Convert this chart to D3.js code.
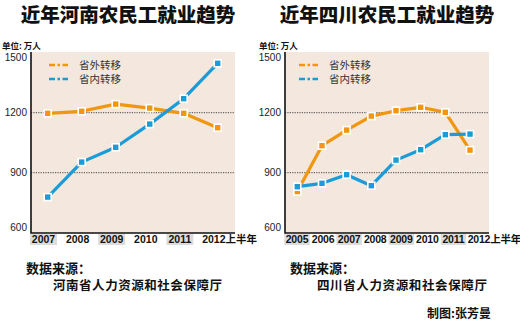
<!DOCTYPE html>
<html>
<head>
<meta charset="utf-8">
<script src="https://cdn.jsdelivr.net/npm/d3@7"></script>
<style>
  body { margin: 0; background: #fff; }
  text { font-family: "Liberation Sans", Arial, "Noto Sans CJK SC", sans-serif; }
  .cjk { font-family: "Noto Sans CJK SC", sans-serif; }
</style>
</head>
<body>
<script>
  // data (unit: 10k people)
  var henanYears = ["2007", "2008", "2009", "2010", "2011", "2012上半年"];
  var henanOut = [1197, 1207, 1243, 1223, 1197, 1125];
  var henanIn = [778, 953, 1027, 1143, 1270, 1447];

  var sichuanYears = ["2005", "2006", "2007", "2008", "2009", "2010", "2011", "2012上半年"];
  var sichuanOut = [806, 1035, 1113, 1183, 1210, 1227, 1202, 1013];
  var sichuanIn = [830, 847, 890, 835, 963, 1015, 1090, 1093];

  var yTicks = [600, 900, 1200, 1500];
  var seriesNames = ["省外转移", "省内转移"];

  var orange = "#f1960f";
  var blue = "#1b9bd7";

  var svg = d3.select("body").append("svg")
    .attr("width", 520)
    .attr("height", 324);

  // one panel = title, plot, legend, source note
  var drawPanel = function (o) {
    var g = svg.append("g");

    g.append("text")
      .attr("class", "cjk")
      .attr("x", o.titleX).attr("y", 22)
      .attr("text-anchor", "middle")
      .attr("font-size", 19.5).attr("font-weight", 900)
      .attr("fill", "#111")
      .text(o.title);

    g.append("text")
      .attr("class", "cjk")
      .attr("x", o.unitX).attr("y", 48.5)
      .attr("font-size", 8.5).attr("font-weight", 700)
      .attr("fill", "#111")
      .text("单位: 万人");

    var y = d3.scaleLinear().domain([600, 1500]).range([232.7, 52.7]);
    var x = d3.scalePoint().domain(o.years).range([o.x0, o.x1]);
    // tick labels sit on their own spacing, a bit off the points
    var xl = d3.scalePoint().domain(o.years).range([o.l0, o.l1]);

    g.append("rect")
      .attr("x", o.left).attr("y", 52)
      .attr("width", o.right - o.left).attr("height", 181)
      .attr("fill", "#f3e7de");

    // dotted grid
    g.selectAll("line.grid").data([900, 1200]).enter()
      .append("line")
      .attr("x1", o.left).attr("x2", o.right)
      .attr("y1", function(d){ return y(d); })
      .attr("y2", function(d){ return y(d); })
      .attr("stroke", "#333").attr("stroke-width", 0.9)
      .attr("stroke-dasharray", "1.2,1.2");

    // y axis labels (ends pulled inward like the print)
    var yOff = {600: -1.5, 900: 3.5, 1200: 3.5, 1500: 8};
    g.selectAll("text.yt").data(yTicks).enter()
      .append("text")
      .attr("x", o.left - 4)
      .attr("y", function(d){ return y(d) + yOff[d]; })
      .attr("text-anchor", "end")
      .attr("font-size", 10).attr("fill", "#222")
      .text(function(d){ return d; });

    // axes
    g.append("path")
      .attr("d", "M" + o.left + ",52V" + 233 + "H" + o.right)
      .attr("fill", "none").attr("stroke", "#111").attr("stroke-width", 1.6);

    // x labels, every other one shaded
    var last = o.years[o.years.length - 1];
    var lab = g.selectAll("g.xl").data(o.years).enter().append("g");
    lab.filter(function(d, i){ return i % 2 === 0 && d !== last; })
      .append("rect")
      .attr("x", function(d){ return xl(d) - o.boxW / 2; })
      .attr("y", 234).attr("width", o.boxW).attr("height", 11)
      .attr("fill", "#dcdcdc");
    lab.append("text")
      .attr("x", function(d){ return d === last ? xl(d) - 11.8 : xl(d); })
      .attr("y", 243)
      .attr("text-anchor", function(d){ return d === last ? "start" : "middle"; })
      .attr("font-size", 10.5).attr("font-weight", 700)
      .attr("fill", "#111")
      .attr("letter-spacing", o.labSpacing)
      .text(function(d){ return d; });

    var line = d3.line()
      .x(function(d, i){ return x(o.years[i]); })
      .y(function(d){ return y(d); });

    [[o.out, orange], [o.inn, blue]].forEach(function (s) {
      g.append("path")
        .datum(s[0])
        .attr("d", line)
        .attr("fill", "none").attr("stroke", s[1]).attr("stroke-width", 3.2)
        .attr("stroke-linejoin", "round");
      g.selectAll(null).data(s[0]).enter()
        .append("rect")
        .attr("x", function(d, i){ return x(o.years[i]) - 3.5; })
        .attr("y", function(d){ return y(d) - 3.5; })
        .attr("width", 7).attr("height", 7)
        .attr("fill", s[1]).attr("stroke", "#fff").attr("stroke-width", 1.6);
    });

    // legend
    seriesNames.forEach(function (name, i) {
      var ly = 65 + i * 14;
      var c = i === 0 ? orange : blue;
      g.append("line")
        .attr("x1", o.legX).attr("x2", o.legX + 19)
        .attr("y1", ly).attr("y2", ly)
        .attr("stroke", c).attr("stroke-width", 2.6)
        .attr("stroke-dasharray", "6,2.5,2.5,2.5,6");
      g.append("text")
        .attr("class", "cjk")
        .attr("x", o.legX + 30).attr("y", ly + 3.5)
        .attr("font-size", 10.5).attr("fill", "#333")
        .text(name);
    });

    // source note
    g.append("text")
      .attr("class", "cjk")
      .attr("x", o.srcX).attr("y", 273)
      .attr("font-size", 13).attr("font-weight", 700).attr("fill", "#111")
      .text("数据来源：");
    g.append("text")
      .attr("class", "cjk")
      .attr("x", o.orgX).attr("y", 290)
      .attr("font-size", 12.5).attr("font-weight", 700).attr("fill", "#111")
      .attr("textLength", o.orgW)
      .text(o.org);
  };

  drawPanel({
    title: "近年河南农民工就业趋势", titleX: 128, unitX: 2,
    years: henanYears, out: henanOut, inn: henanIn,
    left: 31, right: 235, x0: 47.7, x1: 217.7, l0: 43.5, l1: 214,
    boxW: 27, labSpacing: 0,
    legX: 49, srcX: 26, orgX: 53, org: "河南省人力资源和社会保障厅", orgW: 169
  });

  drawPanel({
    title: "近年四川农民工就业趋势", titleX: 387, unitX: 259,
    years: sichuanYears, out: sichuanOut, inn: sichuanIn,
    left: 285, right: 489, x0: 297.3, x1: 470, l0: 297, l1: 479.5,
    boxW: 25.5, labSpacing: -0.2,
    legX: 299, srcX: 290, orgX: 317, org: "四川省人力资源和社会保障厅", orgW: 170
  });

  svg.append("text")
    .attr("class", "cjk")
    .attr("x", 427).attr("y", 318)
    .attr("font-size", 12).attr("font-weight", 700).attr("fill", "#111")
    .text("制图:张芳曼");
</script>
</body>
</html>
